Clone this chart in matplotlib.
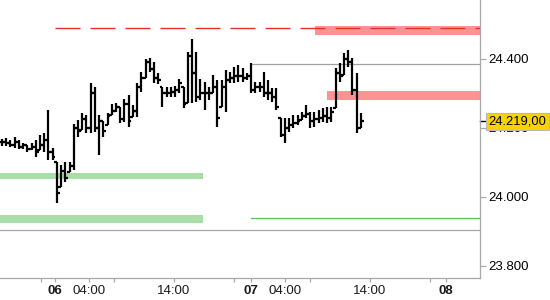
import numpy as np
import matplotlib.pyplot as plt
from matplotlib.transforms import blended_transform_factory

plt.rcParams['font.family'] = ['Liberation Sans', 'DejaVu Sans']

# 30-minute OHLC bars (price)
highs = [24.168, 24.171, 24.165, 24.174, 24.165, 24.156, 24.150, 24.156, 24.165, 24.179,
         24.185, 24.252, 24.142, 24.101, 24.092, 24.101, 24.101, 24.211, 24.223, 24.243,
         24.237, 24.330, 24.319, 24.237, 24.220, 24.243, 24.269, 24.272, 24.261, 24.284,
         24.295, 24.266, 24.330, 24.362, 24.400, 24.403, 24.391, 24.359, 24.319, 24.319,
         24.319, 24.322, 24.342, 24.319, 24.420, 24.458, 24.420, 24.342, 24.333, 24.319,
         24.354, 24.339, 24.339, 24.368, 24.362, 24.377, 24.382, 24.374, 24.359, 24.388,
         24.333, 24.333, 24.362, 24.339, 24.316, 24.316, 24.229, 24.229, 24.229, 24.237,
         24.237, 24.246, 24.266, 24.246, 24.246, 24.252, 24.258, 24.261, 24.261, 24.374,
         24.388, 24.417, 24.426, 24.403, 24.359, 24.243]
lows = [24.148, 24.148, 24.145, 24.142, 24.139, 24.139, 24.130, 24.136, 24.116, 24.136,
        24.130, 24.107, 24.107, 23.982, 24.029, 24.043, 24.072, 24.078, 24.174, 24.194,
        24.185, 24.185, 24.188, 24.121, 24.174, 24.208, 24.237, 24.246, 24.214, 24.217,
        24.203, 24.232, 24.232, 24.304, 24.345, 24.362, 24.330, 24.327, 24.261, 24.290,
        24.290, 24.290, 24.301, 24.258, 24.272, 24.272, 24.275, 24.281, 24.252, 24.281,
        24.301, 24.203, 24.261, 24.246, 24.330, 24.330, 24.333, 24.333, 24.339, 24.301,
        24.301, 24.304, 24.290, 24.281, 24.275, 24.252, 24.174, 24.156, 24.188, 24.200,
        24.208, 24.223, 24.229, 24.200, 24.203, 24.214, 24.217, 24.214, 24.217, 24.258,
        24.333, 24.353, 24.377, 24.295, 24.185, 24.200]
closes = [24.160, 24.155, 24.150, 24.160, 24.145, 24.150, 24.140, 24.145, 24.130, 24.150,
          24.165, 24.130, 24.115, 24.010, 24.075, 24.055, 24.090, 24.200, 24.190, 24.225,
          24.200, 24.300, 24.200, 24.220, 24.190, 24.235, 24.250, 24.260, 24.225, 24.270,
          24.220, 24.250, 24.320, 24.345, 24.390, 24.370, 24.345, 24.340, 24.300, 24.300,
          24.305, 24.310, 24.330, 24.270, 24.410, 24.360, 24.290, 24.300, 24.300, 24.300,
          24.320, 24.230, 24.320, 24.340, 24.345, 24.350, 24.350, 24.345, 24.350, 24.310,
          24.320, 24.320, 24.300, 24.300, 24.290, 24.260, 24.180, 24.200, 24.210, 24.215,
          24.220, 24.235, 24.240, 24.220, 24.225, 24.230, 24.235, 24.230, 24.245, 24.360,
          24.350, 24.400, 24.390, 24.310, 24.200, 24.219]

x_major = [12.55, 20.6, 40.7, 58.9, 67.0, 87.1, 105.1]
x_labels = ["06", "04:00", "14:00", "07", "04:00", "14:00", "08"]
x_minor = [9.23, 26.5, 54.9, 72.9, 101.3]
y_ticks = [23.8, 24.0, 24.2, 24.4]
y_labels = ["23.800", "24.000", "24.200", "24.400"]
last_price = 24.219
last_label = "24.219,00"

# horizontal levels
red_dash = 24.490
red_bands = [(24.470, 24.496), (24.281, 24.307)]
green_bands = [(24.052, 24.069), (23.924, 23.947)]
gray_level = 24.385
green_level = 23.939
gray_full = 23.904

fig = plt.figure(figsize=(5.5, 3), dpi=100)
ax = fig.add_axes([0, 22 / 300, 480 / 550, 278 / 300])
XMIN, XMAX = -0.47, 113.2
ax.set_xlim(XMIN, XMAX)
ax.set_ylim(23.765, 24.571)

idx = np.arange(len(highs))
opens = np.clip([closes[0]] + closes[:-1], lows, highs)

# levels
ax.fill_between([XMIN, 47.6], *green_bands[0], color='#a8dfa8', lw=0, zorder=1)
ax.fill_between([XMIN, 47.6], *green_bands[1], color='#a8dfa8', lw=0, zorder=1)
ax.fill_between([74.1, XMAX], *red_bands[0], color='#ff9393', lw=0, zorder=1)
ax.fill_between([76.9, XMAX], *red_bands[1], color='#ff9393', lw=0, zorder=1)
ax.plot([12.55, XMAX], [red_dash] * 2, color='#e8302a', lw=1, dashes=(18, 7.2), zorder=2)
ax.plot([58.9, XMAX], [gray_level] * 2, color='#a0a0a0', lw=0.9, zorder=2)
ax.plot([58.9, XMAX], [green_level] * 2, color='#44cc44', lw=0.9, zorder=2)
ax.axhline(gray_full, color='#a8a8a8', lw=0.9, zorder=2)

# OHLC bars
ax.vlines(idx, lows, highs, color='black', lw=1.6, zorder=3)
ax.hlines(opens, idx - 0.65, idx, color='black', lw=1.6, zorder=3)
ax.hlines(closes, idx, idx + 0.65, color='black', lw=1.6, zorder=3)

# axes styling
for s in ['top', 'left']:
    ax.spines[s].set_visible(False)
for s in ['right', 'bottom']:
    ax.spines[s].set_color('#a8a8a8')
    ax.spines[s].set_linewidth(0.9)

ax.yaxis.tick_right()
ax.set_yticks(y_ticks)
ax.set_yticklabels(y_labels)
ax.tick_params(axis='y', length=4.5, width=0.9, color='#a8a8a8', pad=1.5,
               labelsize=9.5, labelcolor='black')

ax.set_xticks(x_major)
ax.set_xticklabels(x_labels)
ax.set_xticks(x_minor, minor=True)
ax.tick_params(axis='x', which='both', length=3, width=0.9, color='#a8a8a8', pad=2,
               labelsize=9.5, labelcolor='#1a1a1a')
for lbl in ax.get_xticklabels():
    if len(lbl.get_text()) == 2:
        lbl.set_fontweight('bold')

# last price marker
trans = blended_transform_factory(ax.transAxes, ax.transData)
ax.plot([1.0, 1.0125], [last_price] * 2, color='black', lw=1, transform=trans, clip_on=False)
ax.text(1.018, last_price, last_label, transform=trans, ha='left', va='center',
        fontsize=9.3, color='black', zorder=10, clip_on=False,
        bbox=dict(boxstyle='square,pad=0.22', fc='#f8d300', ec='#b8b8b8', lw=0.8))

fig.savefig('out.png', dpi=100)
